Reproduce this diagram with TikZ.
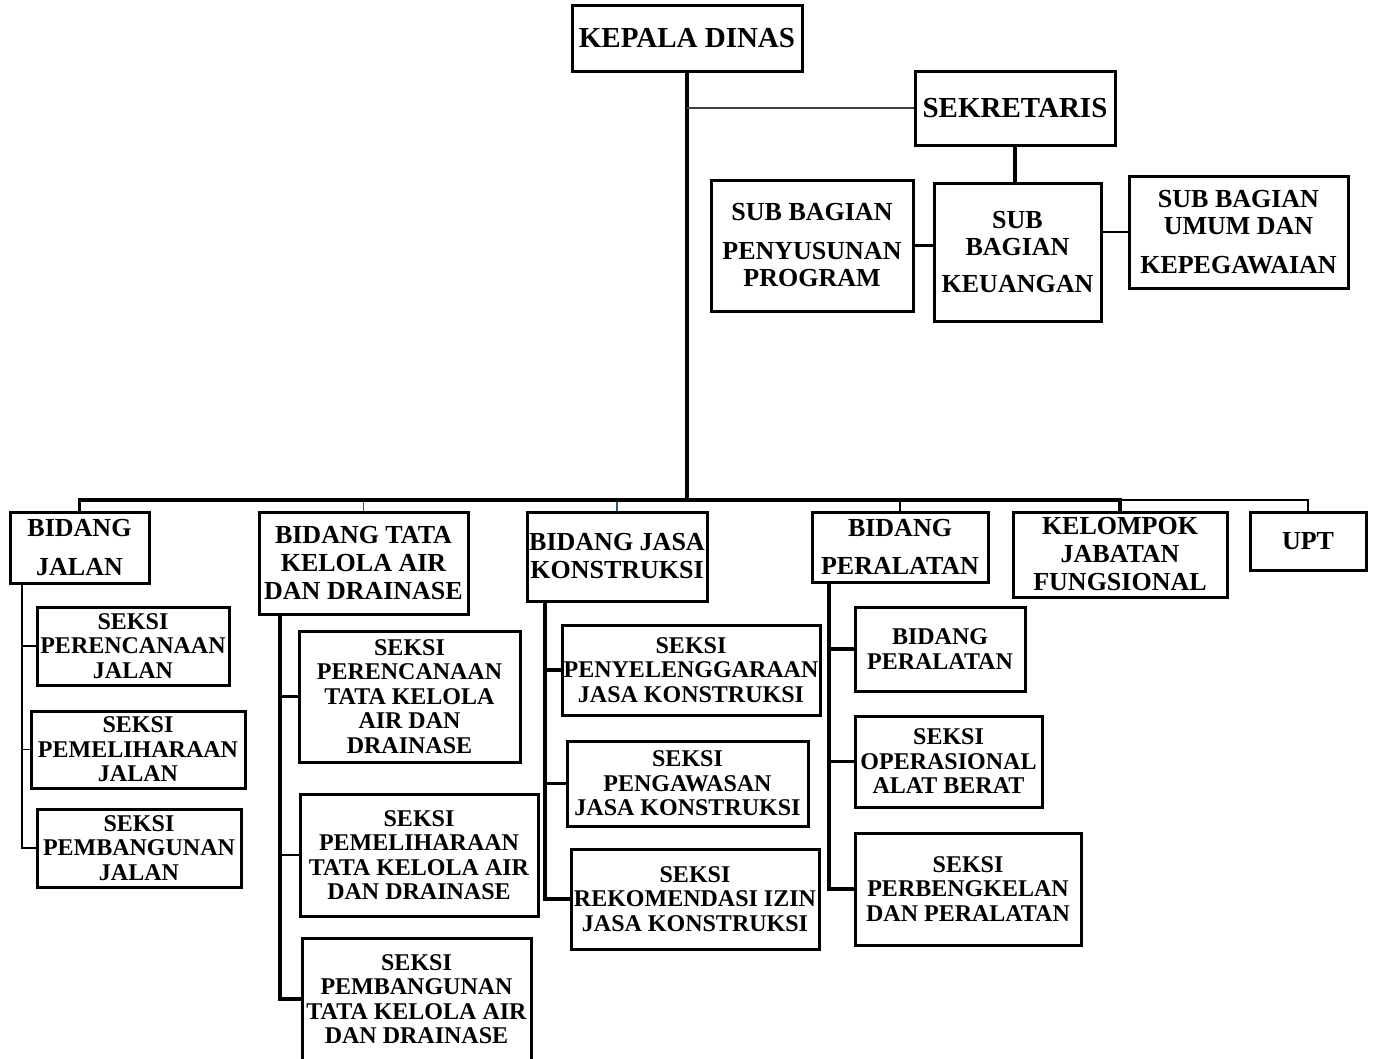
\documentclass[tikz,border=0pt]{standalone}
\usepackage{fontspec}
\setmainfont{Liberation Serif}
\begin{document}
\begin{tikzpicture}[x=1pt,y=-1pt,
  bx/.style={draw,line width=3pt,inner sep=0pt,align=center},
  fk/.style={font=\bfseries\fontsize{29}{30}\selectfont},
  fs/.style={font=\bfseries\fontsize{26}{27}\selectfont},
  fb/.style={font=\bfseries\fontsize{26}{28}\selectfont},
  fx/.style={font=\bfseries\fontsize{24}{24.5}\selectfont},
  thickln/.style={line width=3.2pt},
  thinln/.style={line width=1.6pt},
  blueln/.style={line width=1.8pt,draw={rgb,255:red,47;green,85;blue,151}}]
\useasboundingbox (0,0) rectangle (1375,1058);
% top
\node[bx,fk,minimum width=230,minimum height=66] (kd) at (687,38) {KEPALA DINAS};
\node[bx,fk,minimum width=200,minimum height=74] (sek) at (1015,108) {SEKRETARIS};
\node[bx,fs,minimum width=202,minimum height=131] (pen) at (812,245.5) {SUB BAGIAN\\[12pt]PENYUSUNAN\\PROGRAM};
\node[bx,fs,minimum width=167,minimum height=138] (keu) at (1017.5,252) {SUB\\BAGIAN\\[10pt]KEUANGAN};
\node[bx,fs,minimum width=219,minimum height=112] (umum) at (1238.5,232) {SUB BAGIAN\\UMUM DAN\\[12pt]KEPEGAWAIAN};
% bidang
\node[bx,fb,minimum width=139,minimum height=71] (bj) at (79.5,547.5) {BIDANG\\[11pt]JALAN};
\node[bx,fb,minimum width=209,minimum height=102] (bt) at (363.5,563) {BIDANG TATA\\KELOLA AIR\\DAN DRAINASE};
\node[bx,fb,minimum width=180,minimum height=89] (bk) at (617,556.5) {BIDANG JASA\\KONSTRUKSI};
\node[bx,fb,minimum width=176,minimum height=70] (bp) at (900,547) {BIDANG\\[10pt]PERALATAN};
\node[bx,fb,minimum width=214,minimum height=85] (kjf) at (1120,554.5) {KELOMPOK\\JABATAN\\FUNGSIONAL};
\node[bx,fb,minimum width=116,minimum height=58] (upt) at (1308,541) {UPT};
% seksi jalan
\node[bx,fx,minimum width=192,minimum height=78] (sj1) at (133,646) {SEKSI\\PERENCANAAN\\JALAN};
\node[bx,fx,minimum width=214,minimum height=77] (sj2) at (138,749.5) {SEKSI\\PEMELIHARAAN\\JALAN};
\node[bx,fx,minimum width=204,minimum height=78] (sj3) at (139,848) {SEKSI\\PEMBANGUNAN\\JALAN};
% seksi tata kelola
\node[bx,fx,minimum width=221,minimum height=131] (st1) at (409.5,696.5) {SEKSI\\PERENCANAAN\\TATA KELOLA\\AIR DAN\\DRAINASE};
\node[bx,fx,minimum width=238,minimum height=122] (st2) at (419,855) {SEKSI\\PEMELIHARAAN\\TATA KELOLA AIR\\DAN DRAINASE};
\node[bx,fx,minimum width=229,minimum height=122] (st3) at (416.5,999) {SEKSI\\PEMBANGUNAN\\TATA KELOLA AIR\\DAN DRAINASE};
% seksi jasa
\node[bx,fx,minimum width=258,minimum height=90] (sk1) at (691,670) {SEKSI\\PENYELENGGARAAN\\JASA KONSTRUKSI};
\node[bx,fx,minimum width=241,minimum height=85] (sk2) at (687.5,783.5) {SEKSI\\PENGAWASAN\\JASA KONSTRUKSI};
\node[bx,fx,minimum width=248,minimum height=100] (sk3) at (695,899) {SEKSI\\REKOMENDASI IZIN\\JASA KONSTRUKSI};
% seksi peralatan
\node[bx,fx,minimum width=170,minimum height=84] (sp1) at (940,649) {BIDANG\\PERALATAN};
\node[bx,fx,minimum width=187,minimum height=91] (sp2) at (948.5,761.5) {SEKSI\\OPERASIONAL\\ALAT BERAT};
\node[bx,fx,minimum width=226,minimum height=112] (sp3) at (968,889) {SEKSI\\PERBENGKELAN\\DAN PERALATAN};
% connectors top
\coordinate (bar) at (687,500);
\draw[thickln] (kd.south) -- (bar);
\draw[thinln,draw=black!75] (kd.south |- sek.west) -- (sek.west);
\draw[thickln] (sek.south) -- (sek.south |- keu.north);
\draw[thickln] (pen.east) -- (pen.east -| keu.west);
\draw[thinln] (umum.west) -- (umum.west -| keu.east);
% bar
\draw[blueln] (bt.north) -- (bt.north |- bar);
\draw[blueln] (bk.north) -- (bk.north |- bar);
\draw[thinln] (bp.north) -- (bp.north |- bar);
\draw[thinln] (kjf.north |- bar) -| (upt.north);
\draw[thickln] (bj.north) |- (kjf.north |- bar) -- (kjf.north);
% spines
\coordinate (js) at (22,583);
\coordinate (ts) at (280,614);
\coordinate (ks) at (545,601);
\coordinate (ps) at (829,582);
\draw[line width=2.2pt] (js) |- (sj1.west);
\draw[thinln] (js) |- (sj2.west);
\draw[thinln] (js) |- (sj3.west);
\draw[thickln] (ts) |- (st1.west);
\draw[thinln] (ts) |- (st2.west);
\draw[thickln] (ts) |- (st3.west);
\draw[thickln] (ks) |- (sk1.west);
\draw[thickln] (ks) |- (sk2.west);
\draw[thickln] (ks) |- (sk3.west);
\draw[thickln] (ps) |- (sp1.west);
\draw[thickln] (ps) |- (sp2.west);
\draw[thickln] (ps) |- (sp3.west);
\end{tikzpicture}
\end{document}
